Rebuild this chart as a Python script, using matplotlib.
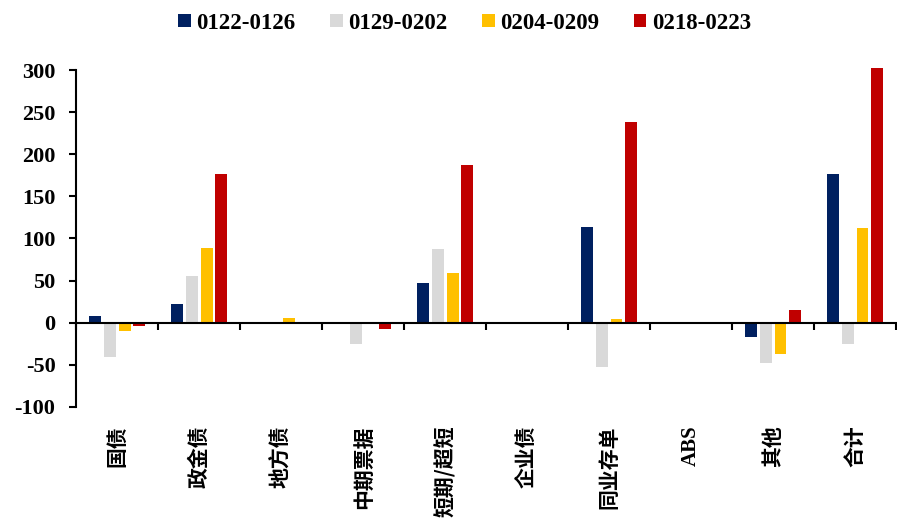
import matplotlib
matplotlib.use("Agg")
import matplotlib.pyplot as plt
import matplotlib.transforms as mtransforms
import numpy as np

categories = ["国债", "政金债", "地方债", "中期票据", "短期/超短", "企业债", "同业存单", "ABS", "其他", "合计"]
series_names = ["0122-0126", "0129-0202", "0204-0209", "0218-0223"]
s1 = [8, 22, 0, -1, 47, 0, 114, -1, -17, 176]
s2 = [-41, 55, 0, -25, 87, 0, -53, 0, -48, -26]
s3 = [-10, 89, 5, 0, 59, -1, 4, -1, -37, 112]
s4 = [-4, 176, 0, -8, 187, 0, 238, 0, 15, 302]
colors = ["#002060", "#D9D9D9", "#FFC000", "#C00000"]
yticks = [-100, -50, 0, 50, 100, 150, 200, 250, 300]

latin = "Liberation Serif"
cjk = ["Noto Sans CJK SC", "DejaVu Sans"]

fig = plt.figure(figsize=(8.97, 5.31), dpi=100)
ax = fig.add_axes([0.085, 0.234, 0.914, 0.634])

x = np.arange(len(categories))
step = 0.18
width = 0.145
for i, (vals, c, name) in enumerate(zip([s1, s2, s3, s4], colors, series_names)):
    ax.bar(x + (i - 1.5) * step, vals, width=width, color=c, label=name, clip_on=False, zorder=2)

ax.set_xlim(-0.5, len(categories) - 0.5)
ax.set_ylim(-100, 300)
ax.set_yticks(yticks)
ax.set_yticklabels([str(v) for v in yticks], fontfamily=latin, fontweight="bold", fontsize=16)

ax.spines["top"].set_visible(False)
ax.spines["right"].set_visible(False)
ax.spines["bottom"].set_position(("data", 0))
for sp in ("left", "bottom"):
    ax.spines[sp].set_linewidth(1.5)
    ax.spines[sp].set_color("black")
    ax.spines[sp].set_zorder(3)

ax.set_xticks(np.arange(-0.5, len(categories), 1.0))
ax.set_xticklabels([])
ax.tick_params(axis="x", direction="out", length=5, width=1.5)
ax.tick_params(axis="y", direction="out", length=5, width=1.5, pad=10)

trans = mtransforms.blended_transform_factory(ax.transData, ax.transAxes)
for xi, lab in zip(x, categories):
    ax.text(xi, -0.055, lab, transform=trans, rotation=90, ha="center", va="top",
            fontfamily=[latin] + cjk if lab == "ABS" else cjk, fontweight="bold", fontsize=15)

leg = fig.legend(loc="upper center", bbox_to_anchor=(0.518, 1.015), ncol=4, frameon=False,
                 prop={"family": latin, "weight": "bold", "size": 16.5},
                 handlelength=0.55, handleheight=0.55, handletextpad=0.25, columnspacing=1.5)

fig.savefig("out.png", dpi=100)
